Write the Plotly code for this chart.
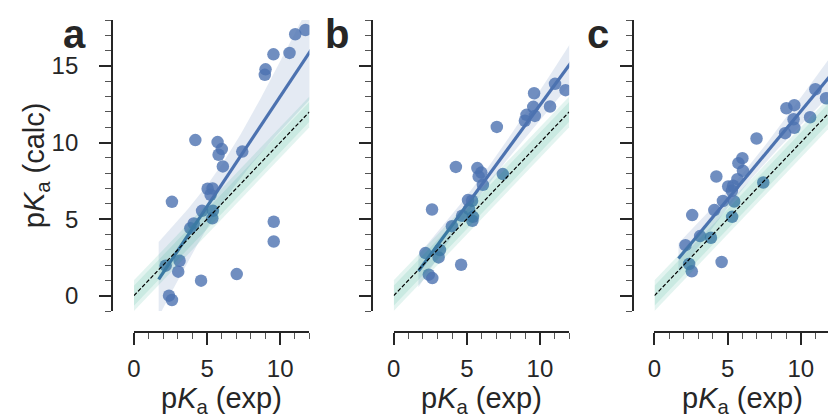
import numpy as np
import plotly.graph_objects as go

# ---------------- data ----------------
a_exp = [4.2, 5.72, 6.01, 5.79, 6.08, 7.41, 2.6, 5.04, 5.38, 5.24, 4.66, 5.4, 5.36, 4.09, 3.86,
         9.56, 9.56, 3.12, 2.17, 3.03, 4.59, 7.03, 2.4, 2.6, 9.0, 8.95, 9.54, 10.64, 11.03, 11.73]
a_calc = [10.16, 10.03, 9.57, 9.2, 8.44, 9.41, 6.13, 6.98, 7.0, 6.59, 5.54, 5.54, 5.05, 4.72, 4.41,
          4.83, 3.54, 2.28, 1.96, 1.57, 0.98, 1.41, 0.0, -0.28, 14.78, 14.42, 15.76, 15.85, 17.07, 17.35]

b_exp = [7.05, 9.6, 11.03, 11.75, 10.69, 9.54, 9.08, 9.65, 8.97, 4.25, 5.72, 5.99, 5.81, 6.1, 7.46,
         2.62, 5.08, 5.36, 5.15, 4.68, 5.42, 5.38, 3.98, 2.17, 3.16, 3.07, 4.61, 2.4, 2.64]
b_calc = [11.02, 13.22, 13.83, 13.42, 12.35, 12.33, 11.81, 11.74, 11.42, 8.41, 8.33, 8.04, 7.78, 7.24, 7.94,
          5.63, 6.24, 6.2, 5.65, 5.22, 5.15, 4.89, 4.54, 2.78, 2.98, 2.5, 2.02, 1.37, 1.15]

c_exp = [6.98, 9.02, 9.56, 11.0, 11.73, 10.64, 9.51, 9.56, 8.93, 6.01, 5.74, 6.05, 4.23, 5.67, 5.04,
         5.38, 5.29, 7.44, 4.68, 5.45, 4.09, 2.58, 5.31, 3.12, 3.86, 2.12, 2.37, 2.55, 4.59]
c_calc = [10.26, 12.24, 12.44, 13.48, 12.89, 11.65, 11.52, 10.96, 10.61, 8.98, 8.65, 8.15, 7.78, 7.61, 7.13,
          7.18, 6.85, 7.39, 6.18, 6.15, 5.59, 5.26, 5.15, 3.89, 3.78, 3.3, 2.07, 1.59, 2.2]

panel_letters = ["a", "b", "c"]
x_ticks = [0, 5, 10]
y_ticks = [0, 5, 10, 15]
x_limits = [0, 12]
y_limits = [-1, 18]
identity_x = [0, 12]
band_halfwidths = [1.0, 0.65]

# ---------------- style / layout ----------------
W, H = 828, 417
BLUE = "#4C72B0"
INK = "#262626"
FONT = "Liberation Sans, Arial, sans-serif"

# pixel geometry of each panel: (x of data 0, y-spine x); right edge of c is the canvas edge
panels_px = [(128, 106), (390, 368), (653, 631)]
px_per_unit = 14.75
y_top_px, y_bot_px = 20, 311
xspine_px = 332


def px2fx(p):
    return p / W


def px2fy(p):
    return 1 - p / H


def fit_line(x, y):
    x = np.asarray(x, float)
    y = np.asarray(y, float)
    n = len(x)
    slope, icpt = np.polyfit(x, y, 1)
    xm = x.mean()
    sxx = ((x - xm) ** 2).sum()
    resid = y - (slope * x + icpt)
    s = np.sqrt((resid ** 2).sum() / (n - 2))
    rng = x.max() - x.min()
    xg = np.linspace(x.min() - 0.05 * rng, x.max() + 0.05 * rng, 120)
    yg = slope * xg + icpt
    se = s * np.sqrt(1.0 / n + (xg - xm) ** 2 / sxx)
    t = 2.05
    return xg, yg, yg - t * se, yg + t * se


fig = go.Figure()
datasets = [(a_exp, a_calc), (b_exp, b_calc), (c_exp, c_calc)]

for i, (xe, yc) in enumerate(datasets):
    xa = "x" if i == 0 else f"x{i+1}"
    ya = "y" if i == 0 else f"y{i+1}"
    xg, yg, lo, hi = fit_line(xe, yc)
    fig.add_trace(go.Scatter(x=np.concatenate([xg, xg[::-1]]), y=np.concatenate([hi, lo[::-1]]),
                             fill="toself", fillcolor="rgba(76,114,176,0.15)", line=dict(width=0),
                             mode="lines", hoverinfo="skip", showlegend=False, xaxis=xa, yaxis=ya))
    fig.add_trace(go.Scatter(x=xe, y=yc, mode="markers",
                             marker=dict(size=12.5, color="rgba(76,114,176,0.8)", line=dict(width=0)),
                             showlegend=False, xaxis=xa, yaxis=ya))
    fig.add_trace(go.Scatter(x=xg, y=yg, mode="lines", line=dict(color=BLUE, width=3.2),
                             showlegend=False, xaxis=xa, yaxis=ya))
    ix = np.array(identity_x, float)
    for hw in band_halfwidths:
        fig.add_trace(go.Scatter(x=np.concatenate([ix, ix[::-1]]),
                                 y=np.concatenate([ix + hw, ix[::-1] - hw]),
                                 fill="toself", fillcolor="rgba(2,158,115,0.11)", line=dict(width=0),
                                 mode="lines", hoverinfo="skip", showlegend=False, xaxis=xa, yaxis=ya))
    fig.add_trace(go.Scatter(x=ix, y=ix, mode="lines",
                             line=dict(color="black", width=1.2, dash="4px,2px"),
                             showlegend=False, xaxis=xa, yaxis=ya))

layout = dict(width=W, height=H, margin=dict(l=0, r=0, t=0, b=0),
              paper_bgcolor="white", plot_bgcolor="white", showlegend=False,
              font=dict(family=FONT, size=24, color=INK))

xcenters = []
for i, (x0, ysp) in enumerate(panels_px):
    sfx = "" if i == 0 else str(i + 1)
    x1 = min(x0 + (x_limits[1] - x_limits[0]) * px_per_unit, W)
    xmax = x_limits[0] + (x1 - x0) / px_per_unit
    xcenters.append(x0 + (x_limits[1] - x_limits[0]) * px_per_unit / 2)
    layout["xaxis" + sfx] = dict(
        domain=[px2fx(x0), px2fx(x1)], range=[x_limits[0], xmax], anchor="free", position=px2fy(xspine_px),
        showline=True, linewidth=2, linecolor=INK, showgrid=False, zeroline=False,
        tickmode="array", tickvals=x_ticks, ticktext=[str(v) for v in x_ticks],
        ticks="outside", ticklen=12, tickwidth=2, tickcolor=INK,
        minor=dict(dtick=1, tick0=0, ticks="outside", ticklen=6, tickwidth=1.2, tickcolor="#555555"),
        tickfont=dict(size=24, color=INK, family=FONT), ticklabelstandoff=3)
    layout["yaxis" + sfx] = dict(
        domain=[px2fy(y_bot_px), px2fy(y_top_px)], range=y_limits, anchor="free", position=px2fx(ysp),
        showline=True, linewidth=2, linecolor=INK, showgrid=False, zeroline=False,
        tickmode="array", tickvals=y_ticks, ticktext=[str(v) for v in y_ticks],
        ticks="outside", ticklen=12, tickwidth=2, tickcolor=INK,
        minor=dict(dtick=1, tick0=0, ticks="outside", ticklen=6, tickwidth=1.2, tickcolor="#555555"),
        showticklabels=(i == 0),
        tickfont=dict(size=24, color=INK, family=FONT), ticklabelstandoff=16)

fig.update_layout(**layout)

annotations = []
letter_x = [68, 333, 596]
for i, L in enumerate(panel_letters):
    annotations.append(dict(text=f"<b>{L}</b>", x=px2fx(letter_x[i]), y=px2fy(34), xref="paper", yref="paper",
                            xanchor="center", yanchor="middle", showarrow=False,
                            font=dict(size=40, color=INK, family=FONT)))
for cx in xcenters:
    annotations.append(dict(text="p<i>K</i><sub>a</sub> (exp)", x=px2fx(cx), y=px2fy(400),
                            xref="paper", yref="paper", xanchor="center", yanchor="middle",
                            showarrow=False, font=dict(size=29, color=INK, family=FONT)))
annotations.append(dict(text="p<i>K</i><sub>a</sub> (calc)", x=px2fx(29), y=px2fy((y_top_px + y_bot_px) / 2),
                        xref="paper", yref="paper", xanchor="center", yanchor="middle", textangle=-90,
                        showarrow=False, font=dict(size=29, color=INK, family=FONT)))
fig.update_layout(annotations=annotations)

post = ("document.body.style.margin='0';document.body.style.padding='0';"
        "document.body.style.overflow='hidden';"
        "var gd=document.querySelector('.plotly-graph-div');"
        "gd.style.position='absolute';gd.style.left='0px';gd.style.top='0px';")
fig.write_html("out.html", config={"displayModeBar": False}, post_script=post)
